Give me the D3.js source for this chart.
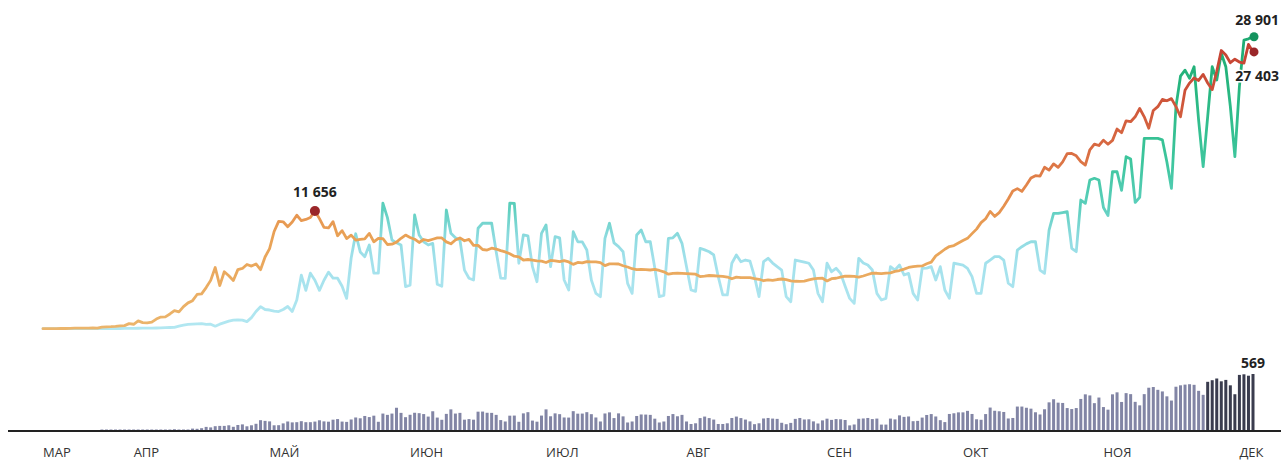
<!DOCTYPE html>
<html><head><meta charset="utf-8">
<script src="https://cdn.jsdelivr.net/npm/d3@7"></script>
<style>
html,body{margin:0;padding:0;background:#fff;overflow:hidden;}
svg{display:block;}
text{font-family:"Open Sans","Noto Sans",sans-serif;}
</style></head><body>
<svg id="chart" width="1281" height="462"></svg>
<script>
// ---- DATA (daily, from 12 Mar 2020 to 4 Dec 2020) ----
const startDate = new Date(2020, 2, 12);

// new cases per day
const cases = [
// Mar 12-31
8,17,14,4,30,21,33,52,54,53,61,71,57,163,182,196,228,270,302,501,
// Apr
440,771,601,582,658,954,1154,1175,1459,1786,1667,2186,2558,2774,3388,3448,4070,4785,6060,4268,5642,5236,4774,5849,5966,6361,6198,6411,5841,7099,
// May
7933,9623,10633,10581,10102,10559,11231,10699,10817,11012,11656,10899,10028,9974,10598,9200,9709,8926,9263,8764,8849,8894,9434,8599,8946,8915,8338,8371,8572,8952,9268,
// Jun
9035,8863,8536,8831,8726,8855,8984,8985,8595,8404,8779,8987,8706,8835,8246,8248,7843,7790,7972,7889,7728,7600,7425,7176,7113,6800,6852,6791,6719,6693,
// Jul
6556,6760,6718,6632,6736,6611,6368,6562,6509,6635,6611,6615,6537,6248,6422,6428,6406,6234,6109,5940,5842,5862,5848,5811,5871,5765,5635,5395,5475,5509,5482,
// Aug
5462,5427,5394,5159,5204,5267,5241,5212,5189,5118,4945,5102,5057,5065,5061,4969,4892,4748,4828,4785,4870,4921,4852,4744,4696,4676,4711,4829,4941,4980,4993,
// Sep
4729,4952,4995,5110,5205,5195,5185,5099,5218,5363,5504,5488,5449,5509,5529,5670,5762,5905,6065,6148,6196,6215,6431,6595,7212,7523,7867,8135,8232,8481,
// Oct
8731,8945,9412,9859,10499,10888,11615,11115,11493,12126,12846,13634,13868,13592,14231,14922,15150,15099,15982,15700,16319,15971,16521,17340,17347,17121,16550,16202,17717,18283,18140,
// Nov
18665,18257,18648,19768,19404,20582,20498,20977,21798,20977,19851,21608,21983,22702,22572,22778,21983,20985,23610,24318,24822,24581,25173,24326,23675,25487,27543,27100,26338,26683,
// Dec 1-4
26402,26300,28145,27403
];

// recovered per day
const recovered = [
0,0,0,1,2,2,1,3,4,5,6,8,9,10,12,15,18,22,26,30,
40,45,50,55,60,70,85,100,120,140,
250,350,420,450,480,500,420,450,250,450,
600,750,850,880,850,700,1100,1700,2180,1900,
1850,1750,1700,1900,2200,1700,2840,5300,3800,5500,
4800,3800,4800,5600,5000,5000,4200,3000,7000,9400,
7600,7130,8290,5500,5500,12440,11000,8780,8500,8290,
4160,4300,11260,9280,8600,8290,8450,4400,4200,11750,
9440,9000,8780,5800,5000,4820,9940,10440,10440,10440,
7620,5000,4990,12440,12410,6480,9280,9200,6140,4650,
9440,10270,6140,9110,9000,4820,3830,9600,8610,8600,
7790,4820,3500,3170,8950,10440,8500,8120,7620,4490,
3500,9280,9770,8610,8610,6000,3170,3300,8950,9000,
9440,8450,6140,3830,3700,7960,7800,7620,7300,5150,
3340,3340,6480,7300,6630,6800,6700,5150,3170,6630,
6970,6500,6140,5800,3170,2670,6800,6700,6600,6480,
5810,3500,2670,6480,5640,5980,5480,4200,3000,2510,
6970,6500,6300,5810,3500,2840,3000,6140,5810,6300,
5320,5480,3500,2840,5980,6000,6140,4820,6140,3830,
3010,6480,6400,6300,5980,5150,3500,3500,6480,6800,
7130,7130,6800,4500,4160,7790,8120,8400,8610,8610,
5810,5480,9770,11420,11420,11500,11580,7960,7620,12740,
12410,14720,14890,14720,12000,11200,15540,15540,13700,17030,
16800,12500,13000,18850,18850,18850,18850,18700,16500,13900,
22000,25000,25600,24790,25940,20660,16040,21000,25940,24620,
27270,25940,22000,17030,23960,28580,28700,28901
];

// deaths per day
const deaths = [
0,0,0,0,0,0,0,0,0,0,0,0,0,1,1,1,4,1,8,2,
7,6,6,4,2,2,11,5,13,18,12,12,12,24,22,28,41,36,48,51,51,57,42,60,66,47,57,72,108,101,
96,57,58,76,95,86,88,98,88,88,94,107,96,93,113,119,94,91,115,135,127,150,139,153,92,174,161,174,232,181,138,
162,182,178,169,144,197,134,112,171,216,174,181,113,119,113,193,194,182,181,161,109,95,153,154,92,176,188,104,93,154,
216,147,176,168,135,134,198,173,174,188,168,135,95,175,186,129,176,146,85,95,150,165,164,161,123,85,95,150,169,147,161,
95,70,77,129,144,129,114,70,70,77,130,144,129,114,96,68,77,125,130,124,121,82,68,81,121,130,115,117,96,75,106,
123,111,119,117,110,56,65,122,125,130,119,124,64,64,124,116,156,141,145,98,101,134,160,169,145,108,89,170,177,186,
186,201,170,117,112,169,234,202,197,190,125,130,244,244,232,223,187,165,217,286,317,283,280,229,219,229,320,366,355,278,334,
239,213,366,386,290,378,368,291,256,368,432,439,411,395,346,304,442,456,463,467,461,401,361,491,507,524,496,510,456,367,
560,566,552,569
];

const monthLabels = ["МАР","АПР","МАЙ","ИЮН","ИЮЛ","АВГ","СЕН","ОКТ","НОЯ","ДЕК"];
const monthStarts = [
  new Date(2020,2,1), new Date(2020,3,1), new Date(2020,4,1), new Date(2020,5,1), new Date(2020,6,1),
  new Date(2020,7,1), new Date(2020,8,1), new Date(2020,9,1), new Date(2020,10,1), new Date(2020,11,1)
];
const darkFrom = new Date(2020,10,24); // recent bars drawn darker

// ---- BUILD ----
const days = cases.map((_, i) => d3.timeDay.offset(startDate, i));
const endDate = days[days.length - 1];

const svg = d3.select("#chart");

const x = d3.scaleTime().domain([startDate, endDate]).range([43, 1253]);
const y = d3.scaleLinear().domain([0, 30000]).range([328.7, 25.7]);
const yb = d3.scaleLinear().domain([0, 569]).range([431, 374]);

const defs = svg.append("defs");
function grad(id, stops) {
  const g = defs.append("linearGradient").attr("id", id)
    .attr("gradientUnits", "userSpaceOnUse")
    .attr("x1", 0).attr("x2", 0).attr("y1", y(0)).attr("y2", y(30000));
  stops.forEach(s => g.append("stop").attr("offset", s[0]).attr("stop-color", s[1]));
}
grad("gCases", [[0, "#ebb56c"], [0.3, "#e9a256"], [0.45, "#e48a4c"], [0.6, "#d86a42"], [0.8, "#cc4f38"], [1, "#c23a30"]]);
grad("gRec",   [[0, "#b2e7f1"], [0.22, "#a3e1ec"], [0.3, "#8edbe0"], [0.4, "#5ccfbd"], [0.55, "#3ec69e"], [0.8, "#27b67f"], [1, "#1ca86f"]]);

// bars (deaths)
const barW = 3;
svg.append("g").selectAll("rect").data(deaths.map((v, i) => ({ d: days[i], v })))
  .join("rect")
  .attr("x", d => x(d.d) - barW / 2)
  .attr("width", barW)
  .attr("y", d => d.v > 0 ? Math.min(yb(d.v), yb(0) - 1.5) : yb(0))
  .attr("height", d => d.v > 0 ? Math.max(yb(0) - yb(d.v), 1.5) : 0)
  .attr("fill", d => d.d >= darkFrom ? "#3a3c4e" : "#8285a5");

// baseline axis
svg.append("line").attr("x1", 8).attr("x2", 1281).attr("y1", 431).attr("y2", 431)
  .attr("stroke", "#222").attr("stroke-width", 2);

// month labels
const xl = x.copy().clamp(true);
svg.append("g").selectAll("text").data(monthLabels).join("text")
  .attr("x", (d, i) => xl(monthStarts[i]))
  .attr("y", 457)
  .attr("text-anchor", "start")
  .attr("font-size", 13)
  .attr("fill", "#333")
  .text(d => d);

// lines
const line = d3.line().x(d => x(d.d)).y(d => y(d.v)).curve(d3.curveLinear);
const recData = recovered.map((v, i) => ({ d: days[i], v }));
const caseData = cases.map((v, i) => ({ d: days[i], v }));

svg.append("path").datum(recData).attr("d", line)
  .attr("fill", "none").attr("stroke", "url(#gRec)").attr("stroke-width", 2.8)
  .attr("stroke-linejoin", "round").attr("stroke-linecap", "round");
svg.append("path").datum(caseData).attr("d", line)
  .attr("fill", "none").attr("stroke", "url(#gCases)").attr("stroke-width", 2.8)
  .attr("stroke-linejoin", "round").attr("stroke-linecap", "round");

// markers
const peakIdx = d3.maxIndex(cases.slice(0, 150));
const peak = caseData[peakIdx];
svg.append("circle").attr("cx", x(peak.d)).attr("cy", y(peak.v)).attr("r", 5).attr("fill", "#9a2629");
const lastRec = recData[recData.length - 1];
const lastCase = caseData[caseData.length - 1];
svg.append("circle").attr("cx", x(lastRec.d) + 1).attr("cy", y(lastRec.v)).attr("r", 4.5).attr("fill", "#14935e");
svg.append("circle").attr("cx", x(lastCase.d) + 1).attr("cy", y(lastCase.v)).attr("r", 4.5).attr("fill", "#9a2629");

const fmt = v => d3.format(",")(v).replace(/,/g, " ");
function label(tx, ty, anchor, txt) {
  svg.append("text").attr("x", tx).attr("y", ty).attr("text-anchor", anchor)
    .attr("font-size", 14).attr("font-weight", 700).attr("fill", "#222")
    .attr("stroke", "#fff").attr("stroke-width", 3).attr("paint-order", "stroke")
    .attr("stroke-linejoin", "round")
    .text(txt);
}
label(x(peak.d), y(peak.v) - 14, "middle", fmt(peak.v));
label(1279, y(lastRec.v) - 12, "end", fmt(lastRec.v));
label(1279, y(lastCase.v) + 29, "end", fmt(lastCase.v));
const lastDeath = deaths[deaths.length - 1];
label(x(endDate), yb(lastDeath) - 6, "middle", String(lastDeath));
</script>
</body></html>
